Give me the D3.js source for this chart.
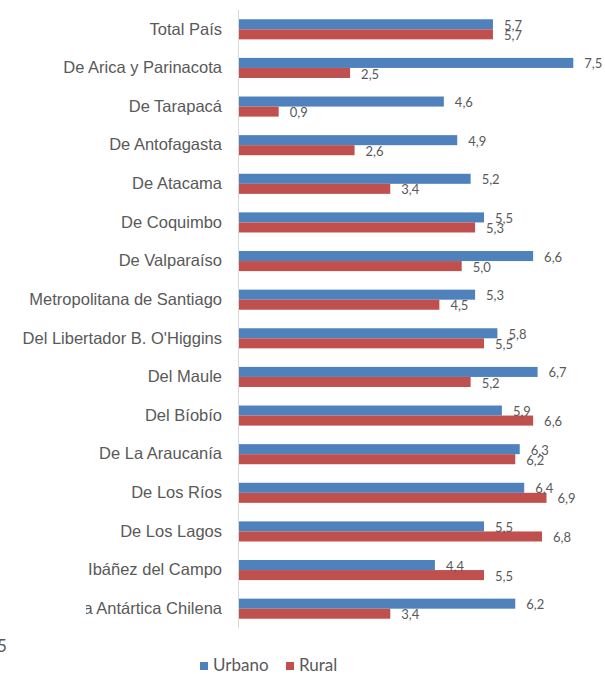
<!DOCTYPE html>
<html>
<head>
<meta charset="utf-8">
<script src="https://cdn.jsdelivr.net/npm/d3@7"></script>
<style>
  body{margin:0;background:#fff}
  svg{display:block;font-family:Lato,"Open Sans",sans-serif}
</style>
</head>
<body>
<svg></svg>
<script>
let regions=["Total País","De Arica y Parinacota","De Tarapacá","De Antofagasta","De Atacama","De Coquimbo","De Valparaíso","Metropolitana de Santiago","Del Libertador B. O'Higgins","Del Maule","Del Bíobío","De La Araucanía","De Los Ríos","De Los Lagos","Ibáñez del Campo","De Magallanes y de la Antártica Chilena"]
let urbano=[5.7,7.5,4.6,4.9,5.2,5.5,6.6,5.3,5.8,6.7,5.9,6.3,6.4,5.5,4.4,6.2]
let rural=[5.7,2.5,0.9,2.6,3.4,5.3,5.0,4.5,5.5,5.2,6.6,6.2,6.9,6.8,5.5,3.4]
let seriesNames=["Urbano","Rural"]
let colors=["#4f81bd","#c0504d"]

let width=605
let height=674
let plotLeft=238.5
let plotTop=10
let plotBottom=628

let svg=d3.select('svg').attr('width',width).attr('height',height)

let xScale=d3.scaleLinear().domain([0,7.5]).range([plotLeft,573.3])
let yScale=d3.scaleBand().domain(regions).range([plotTop,plotBottom]).paddingInner(0.48).paddingOuter(0.24)
let inner=d3.scaleBand().domain(seriesNames).range([0,yScale.bandwidth()])

let rows=regions.map((r,i)=>({region:r,values:[urbano[i],rural[i]]}))

// clip for the long last label, cut off like in the original (in the tick's own coords)
svg.append('clipPath').attr('id','lblclip')
    .append('rect').attr('x',86).attr('y',-30).attr('width',width).attr('height',60)

let yAxis=d3.axisLeft(yScale).tickSize(0)
let gy=svg.append('g').call(yAxis)
gy.select('.domain').remove()
gy.selectAll('.tick text')
    .attr('fill','#595959')
    .style('font-size','16.5px')
    .attr('x',222)
    .attr('clip-path',(d,i)=>i==regions.length-1?'url(#lblclip)':null)

svg.append('line').attr('x1',plotLeft).attr('x2',plotLeft).attr('y1',plotTop).attr('y2',plotBottom)
    .attr('stroke','#d9d9d9').attr('stroke-width',1)

let groups=svg.selectAll('g.row')
    .data(rows)
    .enter()
    .append('g')
    .attr('class','row')
    .attr('transform',(d)=>'translate(0,'+yScale(d.region)+')')

groups.selectAll('rect')
    .data((d)=>d.values.map((v,j)=>({v:v,s:seriesNames[j],c:colors[j]})))
    .enter()
    .append('rect')
    .attr('x',xScale(0)+0.5)
    .attr('y',(d)=>inner(d.s))
    .attr('width',(d)=>xScale(d.v)-xScale(0)-0.5)
    .attr('height',inner.bandwidth())
    .attr('fill',(d)=>d.c)

groups.selectAll('text.val')
    .data((d)=>d.values.map((v,j)=>({v:v,s:seriesNames[j]})))
    .enter()
    .append('text')
    .attr('class','val')
    .attr('x',(d)=>xScale(d.v)+11)
    .attr('y',(d)=>inner(d.s)+inner.bandwidth()/2+1)
    .attr('dy','0.35em')
    .attr('fill','#595959')
    .style('font-size','13px')
    .text((d)=>d3.format('.1f')(d.v).replace('.',','))

// stray fragment from the cropped source at the bottom-left
svg.append('text').attr('x',-3).attr('y',652).attr('fill','#595959').style('font-size','17px').text('5')

let legend=svg.append('g').attr('transform','translate(200,0)')
let lx=[0,86]
seriesNames.forEach((s,i)=>{
    legend.append('rect').attr('x',lx[i]).attr('y',662).attr('width',8).attr('height',8).attr('fill',colors[i])
    legend.append('text').attr('x',lx[i]+13).attr('y',671).attr('fill','#595959').style('font-size','17px').text(s)
})
</script>
</body>
</html>
